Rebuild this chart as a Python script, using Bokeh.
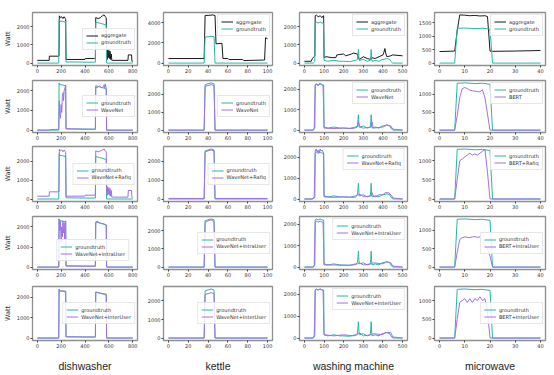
from bokeh.plotting import figure
from bokeh.layouts import gridplot
from bokeh.models import FixedTicker, Range1d, Legend, LegendItem
from bokeh.embed import file_html
from bokeh.resources import INLINE

APPLIANCES = ["dishwasher", "kettle", "washing machine", "microwave"]
SEQ_MODELS = ["WaveNet", "WaveNet+Rafiq", "WaveNet+IntraUser", "WaveNet+InterUser"]
BERT_MODELS = ["BERT", "BERT+Rafiq", "BERT+IntraUser", "BERT+InterUser"]

# ---------------- dishwasher ----------------
DW_X_GT = [0, 180, 183, 190, 210, 235, 238, 241, 300, 400, 480, 487, 490, 520, 550, 575, 578, 581, 800]
DW_Y_GT = [0, 0, 2400, 2300, 2300, 2250, 2300, 60, 60, 50, 50, 50, 2250, 2200, 2150, 2100, 2100, 0, 0]
DW_X_AGG = [0, 100, 101, 175, 182, 185, 195, 205, 215, 225, 235, 238, 241, 400, 402, 480, 487, 490, 510, 530,
            545, 560, 570, 578, 581, 586, 590, 595, 600, 605, 610, 615, 620, 625, 630, 760, 763, 790, 793, 800]
DW_Y_AGG = [150, 150, 380, 380, 380, 2600, 2500, 2550, 2450, 2550, 2450, 2400, 200, 200, 250, 250, 250, 2500, 2450, 2500,
            2600, 2650, 2550, 2500, 700, 200, 750, 300, 700, 250, 650, 200, 500, 150, 150, 150, 450, 450, 100, 100]
DW_X_WN = [0, 100, 105, 170, 180, 185, 190, 195, 200, 205, 210, 215, 220, 225, 230, 235, 238, 241, 300, 400,
           480, 487, 490, 500, 520, 540, 555, 560, 565, 570, 575, 578, 581, 800]
DW_Y_WN = [0, 0, 30, 40, 40, 1500, 800, 600, 1300, 900, 1700, 1900, 1500, 2000, 2100, 2200, 2250, 80, 60, 50,
           40, 40, 2200, 2150, 2250, 2150, 2200, 2300, 2150, 2350, 2200, 2100, 0, 0]
DW_X_RAFIQ = DW_X_AGG
DW_Y_RAFIQ = [150, 150, 380, 380, 380, 2650, 2550, 2600, 2500, 2600, 2500, 2450, 150, 150, 200, 200, 200, 2550, 2500, 2550,
              2600, 2650, 2550, 2500, 600, 200, 650, 250, 600, 200, 550, 150, 450, 100, 100, 100, 450, 450, 80, 80]
DW_X_INTRA = [0, 180, 183, 190, 195, 200, 205, 210, 215, 220, 225, 230, 235, 238, 241, 480, 487, 490, 500, 520,
              560, 575, 578, 581, 800]
DW_Y_INTRA = [0, 0, 2400, 1800, 2300, 1200, 2000, 1500, 2300, 1700, 2200, 1400, 2300, 2300, 50, 40, 40, 2200, 2300, 2200,
              2150, 2100, 2100, 0, 0]
DW_X_INTER = [0, 180, 183, 190, 235, 238, 241, 480, 487, 490, 520, 575, 578, 581, 800]
DW_Y_INTER = [0, 0, 2350, 2300, 2300, 2300, 60, 50, 50, 2250, 2200, 2150, 2150, 0, 0]

# ---------------- kettle ----------------
KT_X_GT = [0, 36, 37, 40, 43, 46, 47, 100]
KT_Y_GT = [0, 0, 2550, 2600, 2650, 2600, 0, 0]
KT_X_AGG = [0, 36, 37, 40, 45, 46, 47, 48, 54, 55, 60, 61, 75, 76, 96, 97, 98, 100]
KT_Y_AGG = [450, 450, 4700, 4700, 4750, 4700, 4700, 1900, 1950, 450, 450, 350, 350, 250, 300, 300, 2500, 2400]
KT_X_PRED = [0, 36, 37, 40, 43, 46, 47, 100]
KT_Y_WN = [0, 0, 2450, 2500, 2550, 2500, 0, 0]
KT_Y_RAFIQ = [30, 30, 2500, 2550, 2600, 2550, 30, 30]
KT_Y_INTRA = [0, 0, 2450, 2550, 2600, 2500, 0, 0]
KT_Y_INTER = [0, 0, 2350, 2400, 2450, 2400, 0, 0]

# ---------------- washing machine ----------------
WM_X_GT = [0, 45, 50, 53, 55, 60, 70, 80, 90, 95, 98, 100, 120, 150, 180, 200, 230, 260, 270, 273,
           275, 278, 280, 300, 320, 335, 338, 340, 343, 345, 360, 380, 395, 400, 420, 435, 440, 445, 450, 470, 500]
WM_Y_GT = [0, 0, 50, 100, 2200, 2250, 2200, 2250, 2200, 2200, 2200, 150, 100, 150, 100, 100, 80, 150, 200, 500,
           750, 300, 150, 200, 100, 150, 400, 750, 200, 100, 150, 100, 200, 200, 250, 200, 100, 50, 0, 0, 0]
WM_X_AGG = [0, 35, 40, 45, 50, 53, 55, 60, 70, 80, 90, 95, 98, 100, 110, 140, 160, 165, 200, 210,
            240, 250, 270, 275, 280, 300, 320, 340, 345, 360, 380, 400, 405, 410, 415, 420, 440, 450, 500]
WM_Y_AGG = [100, 100, 250, 300, 350, 400, 2600, 2650, 2550, 2600, 2500, 2600, 2600, 300, 350, 300, 300, 450, 500, 400,
            500, 550, 500, 300, 200, 350, 250, 200, 300, 250, 350, 450, 600, 800, 500, 350, 400, 450, 400]
WM_X_WN = [0, 45, 50, 55, 60, 70, 80, 90, 95, 100, 150, 200, 250, 270, 275, 280, 300, 340, 345, 350,
           400, 420, 440, 450, 500]
WM_Y_WN = [0, 0, 100, 2150, 2250, 2150, 2300, 2200, 2150, 100, 80, 100, 80, 150, 400, 150, 100, 150, 400, 100,
           150, 250, 200, 50, 0]
WM_X_RAFIQ = [0, 40, 50, 55, 60, 65, 70, 75, 80, 85, 90, 95, 98, 100, 150, 200, 260, 270, 290, 300,
              340, 345, 350, 360, 380, 400, 410, 430, 445, 450, 500]
WM_Y_RAFIQ = [0, 0, 100, 2300, 2400, 2250, 2350, 2200, 2400, 2300, 2350, 2250, 2200, 100, 80, 100, 80, 200, 200, 100,
              150, 300, 150, 100, 200, 200, 300, 300, 150, 50, 0]
WM_X_INTRA = [0, 45, 50, 55, 60, 70, 80, 90, 95, 100, 150, 200, 250, 270, 280, 300, 340, 350, 400, 420, 440, 450, 500]
WM_Y_INTRA = [0, 0, 100, 2100, 2150, 2100, 2150, 2100, 2100, 100, 100, 80, 100, 150, 200, 100, 150, 200, 150, 250, 200, 50, 0]
WM_X_INTER = [0, 45, 50, 55, 60, 70, 80, 90, 95, 100, 150, 200, 250, 270, 280, 300, 340, 350, 400, 410, 440, 450, 500]
WM_Y_INTER = [0, 0, 150, 2200, 2250, 2200, 2250, 2200, 2200, 150, 100, 150, 100, 150, 250, 100, 150, 200, 150, 250, 250, 50, 0]

# ---------------- microwave ----------------
MW_X_GT = [0, 6, 7, 10, 14, 17, 20, 21, 40]
MW_Y_GT = [0, 0, 1300, 1310, 1290, 1300, 1270, 0, 0]
MW_X_AGG = [0, 6, 7, 8, 10, 12, 14, 16, 18, 19, 20, 21, 30, 40]
MW_Y_AGG = [430, 450, 1200, 1800, 1790, 1770, 1780, 1760, 1770, 1740, 450, 440, 450, 470]
MW_X_PRED = [0, 6, 7, 8, 9, 10, 11, 12, 13, 14, 15, 16, 17, 18, 19, 20, 40]
MW_Y_BERT = [0, 0, 400, 900, 1150, 1180, 1150, 1110, 1090, 1080, 1070, 1060, 1120, 900, 450, 0, 0]
MW_Y_RAFIQ = [0, 0, 500, 1000, 1050, 1100, 1150, 1200, 1150, 1180, 1150, 1200, 1250, 1300, 700, 0, 0]
MW_X_INTRA = [0, 6, 7, 8, 9, 10, 11, 12, 13, 14, 15, 16, 17, 18, 19, 20, 21, 40]
MW_Y_INTRA = [0, 0, 400, 750, 800, 820, 810, 800, 820, 830, 810, 820, 700, 600, 500, 300, 0, 0]
MW_Y_INTER = [0, 0, 500, 950, 1000, 1050, 950, 1050, 950, 1050, 1000, 1100, 1000, 1050, 700, 0, 0]

# ---------------- ticks ----------------
X_TICKS = [[0, 200, 400, 600, 800], [0, 20, 40, 60, 80, 100], [0, 100, 200, 300, 400, 500], [0, 10, 20, 30, 40]]
Y_TICKS_TOP = [[0, 1000, 2000], [0, 2000, 4000], [0, 1000, 2000], [0, 500, 1000, 1500]]
Y_TICKS_REST = [[0, 1000, 2000], [0, 1000, 2000], [0, 1000, 2000], [0, 500, 1000]]

# ---------------- assemble ----------------
GT = [(DW_X_GT, DW_Y_GT), (KT_X_GT, KT_Y_GT), (WM_X_GT, WM_Y_GT), (MW_X_GT, MW_Y_GT)]
AGG = [(DW_X_AGG, DW_Y_AGG), (KT_X_AGG, KT_Y_AGG), (WM_X_AGG, WM_Y_AGG), (MW_X_AGG, MW_Y_AGG)]
PRED = [
    [(DW_X_WN, DW_Y_WN), (KT_X_PRED, KT_Y_WN), (WM_X_WN, WM_Y_WN), (MW_X_PRED, MW_Y_BERT)],
    [(DW_X_RAFIQ, DW_Y_RAFIQ), (KT_X_PRED, KT_Y_RAFIQ), (WM_X_RAFIQ, WM_Y_RAFIQ), (MW_X_PRED, MW_Y_RAFIQ)],
    [(DW_X_INTRA, DW_Y_INTRA), (KT_X_PRED, KT_Y_INTRA), (WM_X_INTRA, WM_Y_INTRA), (MW_X_INTRA, MW_Y_INTRA)],
    [(DW_X_INTER, DW_Y_INTER), (KT_X_PRED, KT_Y_INTER), (WM_X_INTER, WM_Y_INTER), (MW_X_PRED, MW_Y_INTER)],
]

LEGEND_LOC = [
    ["center_right", "top_right", "top_right", "top_right"],
    ["center_right", "center_right", "top_right", "top_right"],
    ["center_right", "center_right", "top_right", "top_right"],
    ["bottom_right", "center_right", "top_right", "center_right"],
    ["center_right", "center_right", "top_right", "center_right"],
]

COL_W = [140, 135, 135, 144]
COL_LEFT = [30, 23, 24, 24]
COL_RIGHT = [3, 3, 3, 9]
ROW_H = [75, 67, 69, 68, 96]
ROW_TOP = [12, 5, 4, 5, 7]
ROW_BOTTOM = [7, 7, 9, 8, 35]

C_AGG = "#1a1a1a"
C_GT = "#2bb5a8"
C_PRED = "#a070e6"
FONT = "DejaVu Sans"


def padded(vals):
    lo, hi = min(vals), max(vals)
    pad = 0.05 * (hi - lo)
    return Range1d(lo - pad, hi + pad)


figs = []
for r in range(5):
    row = []
    for c in range(4):
        if r == 0:
            series = [(AGG[c], C_AGG, "aggregate"), (GT[c], C_GT, "groundtruth")]
        else:
            name = BERT_MODELS[r - 1] if c == 3 else SEQ_MODELS[r - 1]
            series = [(GT[c], C_GT, "groundtruth"), (PRED[r - 1][c], C_PRED, name)]
        allx = [v for (s, _, _) in series for v in s[0]]
        ally = [v for (s, _, _) in series for v in s[1]]
        p = figure(width=COL_W[c], height=ROW_H[r], output_backend="svg", toolbar_location=None,
                   x_range=padded(allx), y_range=padded(ally),
                   min_border_left=COL_LEFT[c], min_border_right=COL_RIGHT[c],
                   min_border_top=ROW_TOP[r], min_border_bottom=ROW_BOTTOM[r])
        items = []
        for (xs, ys), col, lab in series:
            gl = p.line(xs, ys, line_color=col, line_width=1)
            items.append(LegendItem(label=lab, renderers=[gl]))
        leg = Legend(items=items, location=LEGEND_LOC[r][c], label_text_font_size="5px",
                     label_text_font=FONT, label_text_color="#333", glyph_width=12, glyph_height=7,
                     label_height=7, label_standoff=3, spacing=0, padding=3, margin=2,
                     border_line_color="#d0d0d0", border_line_width=0.8, background_fill_alpha=0.85)
        if r == 3 and c == 0:
            leg.margin = 8
        p.add_layout(leg)
        p.xgrid.visible = False
        p.ygrid.visible = False
        p.outline_line_color = "#8f8f8f"
        p.outline_line_width = 1.3
        p.xaxis.ticker = FixedTicker(ticks=X_TICKS[c])
        p.yaxis.ticker = FixedTicker(ticks=(Y_TICKS_TOP[c] if r == 0 else Y_TICKS_REST[c]))
        for ax in (p.xaxis[0], p.yaxis[0]):
            ax.axis_line_color = None
            ax.major_tick_out = 2
            ax.major_tick_in = 0
            ax.minor_tick_out = 0
            ax.minor_tick_in = 0
            ax.major_tick_line_color = "#444"
            ax.major_label_text_font_size = "5px"
            ax.major_label_text_font = FONT
            ax.major_label_text_color = "#333"
            ax.major_label_standoff = 1
        if c == 0:
            p.yaxis.axis_label = "Watt"
            p.yaxis.axis_label_text_font_size = "6.5px"
            p.yaxis.axis_label_text_font = FONT
            p.yaxis.axis_label_text_font_style = "normal"
            p.yaxis.axis_label_text_color = "#333"
            p.yaxis.axis_label_standoff = 2
        if r == 4:
            p.xaxis.axis_label = APPLIANCES[c]
            p.xaxis.axis_label_text_font_size = "10.5px"
            p.xaxis.axis_label_text_font = "Liberation Sans"
            p.xaxis.axis_label_text_font_style = "normal"
            p.xaxis.axis_label_text_color = "#222"
            p.xaxis.axis_label_standoff = 9
        row.append(p)
    figs.append(row)

grid = gridplot(figs, toolbar_location=None)
open("out.html", "w").write(file_html(grid, INLINE))
